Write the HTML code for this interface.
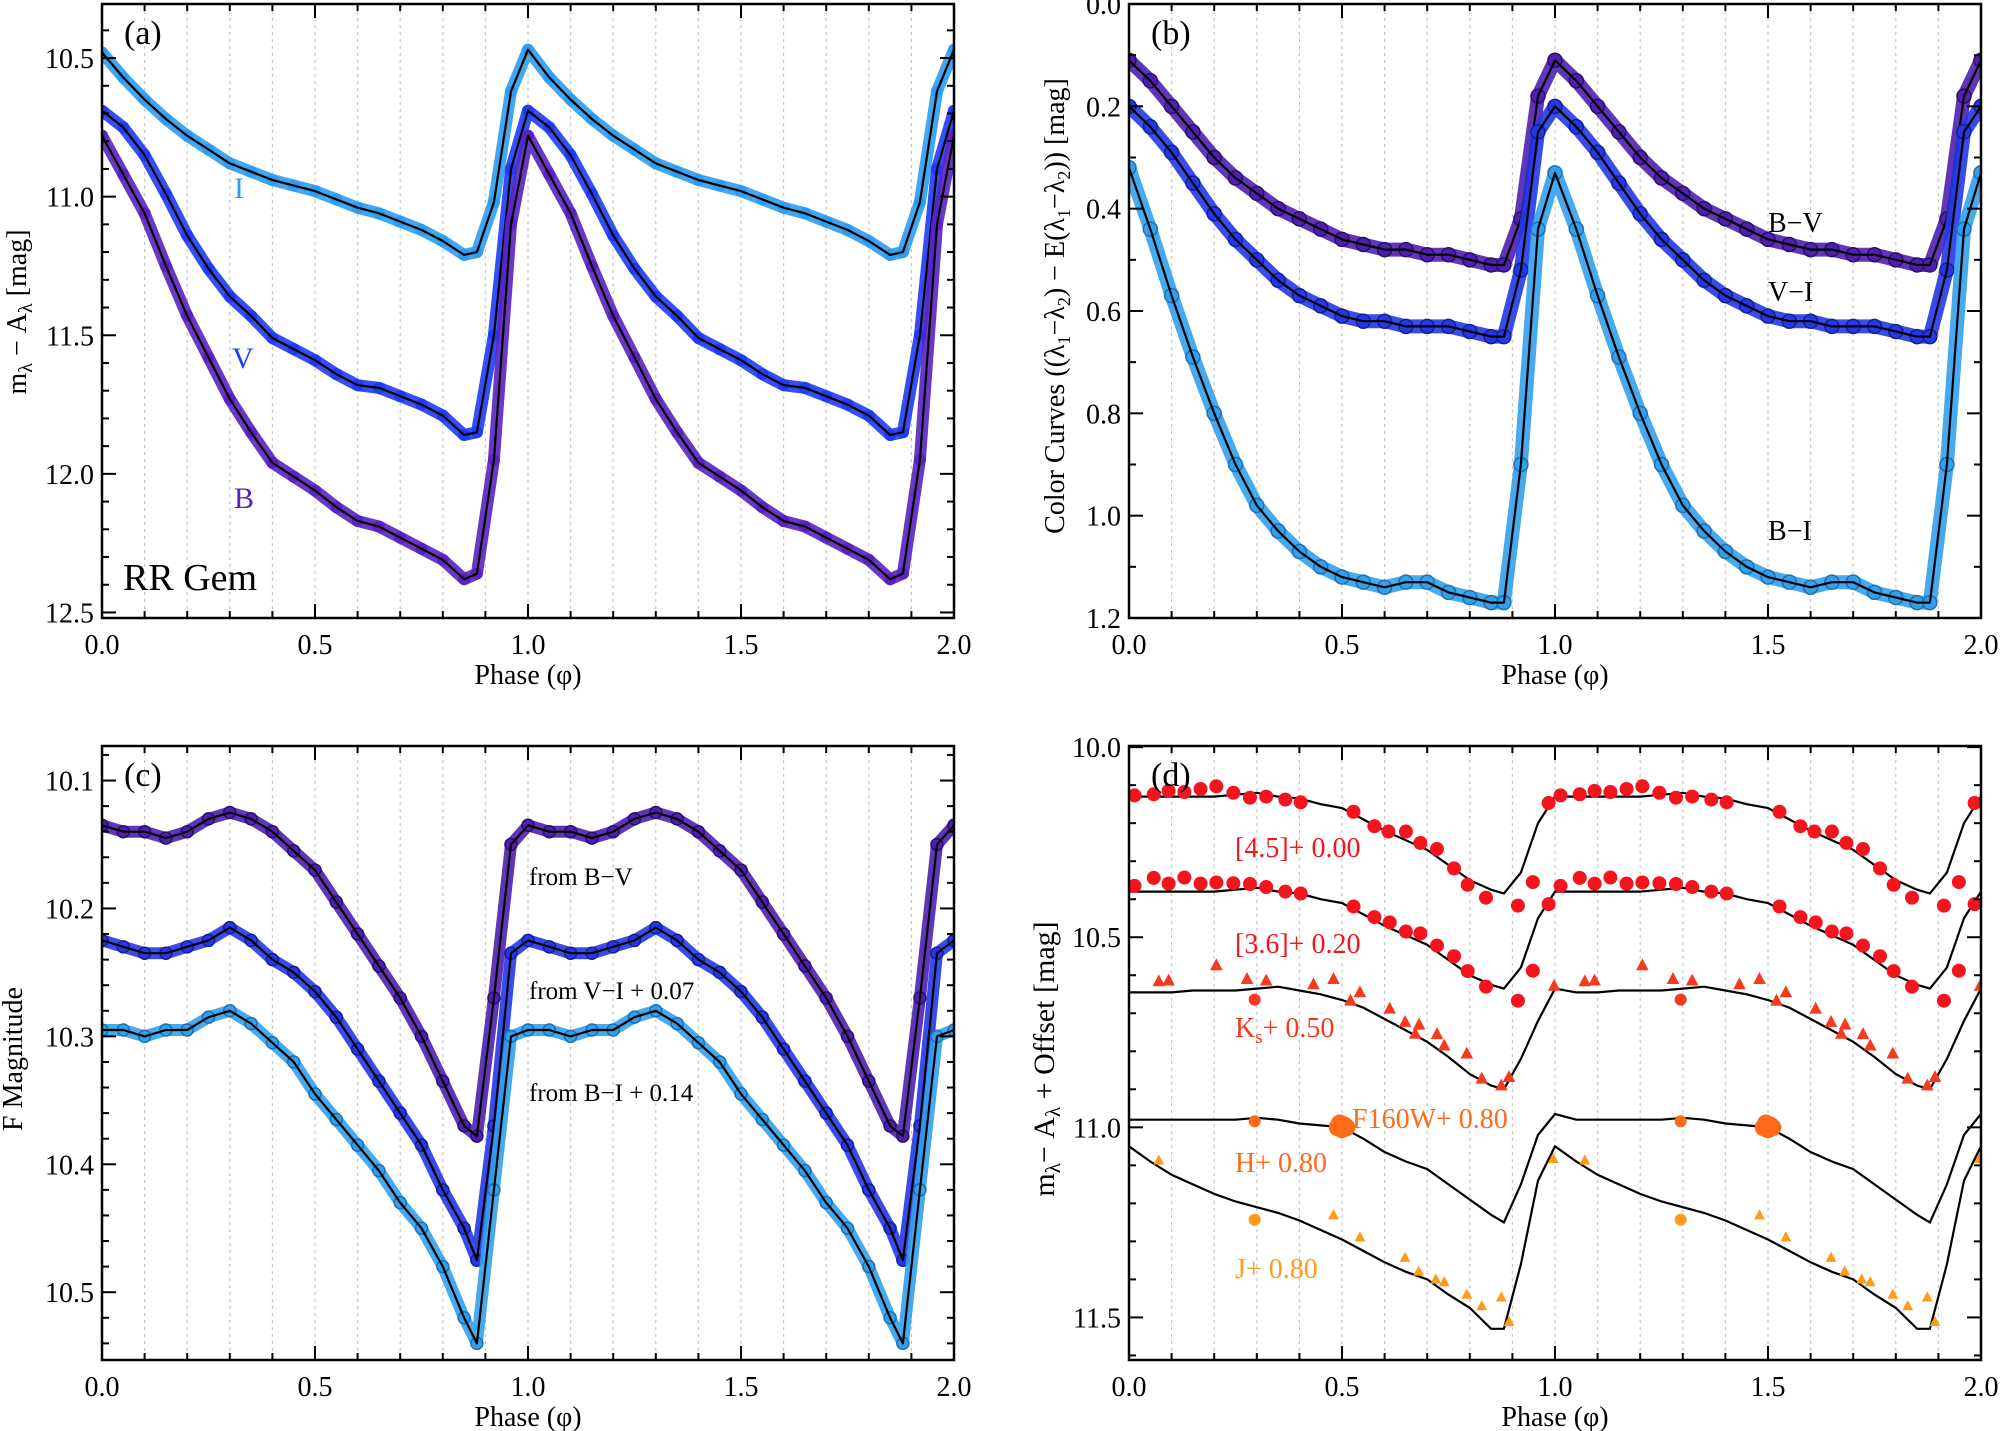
<!DOCTYPE html>
<html><head><meta charset="utf-8"><style>
html,body{margin:0;padding:0;background:#fff;}
svg{display:block;font-family:"Liberation Serif",serif;}
</style></head><body>
<svg id="fig" width="2000" height="1431" viewBox="0 0 2000 1431" xmlns="http://www.w3.org/2000/svg"></svg>
<script>
// ---- shared phase grid (one cycle) ----
const phases = [0,.05,.1,.15,.2,.25,.3,.35,.4,.45,.5,.55,.6,.65,.7,.75,.8,.85,.88,.92,.96,1];
// panel (a)
const magI = [10.48,10.57,10.65,10.72,10.78,10.83,10.88,10.91,10.94,10.96,10.98,11.01,11.04,11.06,11.09,11.12,11.16,11.21,11.20,11.02,10.62,10.47];
const magV = [10.69,10.75,10.85,10.99,11.14,11.26,11.36,11.43,11.51,11.55,11.59,11.64,11.68,11.69,11.72,11.75,11.79,11.86,11.85,11.50,10.90,10.69];
const magB = [10.78,10.92,11.06,11.25,11.43,11.58,11.73,11.85,11.96,12.01,12.06,12.12,12.17,12.19,12.23,12.27,12.31,12.38,12.36,11.95,11.10,10.78];
// panel (b)
const colBV = [.11,.15,.20,.25,.30,.34,.37,.40,.42,.44,.46,.47,.48,.48,.49,.49,.50,.51,.51,.42,.18,.11];
const colVI = [.20,.24,.29,.35,.41,.46,.50,.54,.57,.59,.61,.62,.62,.63,.63,.63,.64,.65,.65,.52,.25,.20];
const colBI = [.32,.44,.57,.69,.80,.90,.98,1.03,1.07,1.10,1.12,1.13,1.14,1.13,1.13,1.15,1.16,1.17,1.17,.90,.44,.33];
// panel (c)
const fBV = [10.135,10.14,10.14,10.145,10.14,10.13,10.125,10.13,10.14,10.155,10.17,10.195,10.22,10.245,10.27,10.30,10.335,10.37,10.378,10.27,10.15,10.135];
const fVI = [10.225,10.23,10.235,10.235,10.23,10.225,10.215,10.225,10.24,10.25,10.265,10.285,10.31,10.335,10.36,10.385,10.42,10.45,10.475,10.37,10.235,10.225];
const fBI = [10.295,10.295,10.30,10.295,10.295,10.285,10.28,10.29,10.305,10.32,10.345,10.365,10.385,10.405,10.43,10.45,10.48,10.52,10.54,10.42,10.30,10.295];
// panel (d) template lines
const l45 = [10.13,10.13,10.13,10.13,10.13,10.125,10.12,10.13,10.135,10.15,10.16,10.19,10.22,10.245,10.27,10.31,10.35,10.375,10.385,10.33,10.20,10.13];
const l36 = [10.38,10.38,10.38,10.38,10.38,10.375,10.37,10.38,10.385,10.40,10.41,10.44,10.47,10.495,10.52,10.56,10.60,10.625,10.635,10.58,10.45,10.38];
const lKs = [10.645,10.645,10.645,10.64,10.64,10.64,10.635,10.63,10.64,10.65,10.665,10.685,10.715,10.745,10.775,10.815,10.86,10.89,10.90,10.82,10.72,10.635];
const lH  = [10.98,10.98,10.98,10.98,10.98,10.98,10.975,10.98,10.99,10.995,11.0,11.03,11.065,11.09,11.11,11.15,11.19,11.23,11.25,11.15,11.02,10.965];
const lJ  = [11.05,11.09,11.125,11.15,11.175,11.195,11.21,11.225,11.245,11.27,11.295,11.325,11.355,11.38,11.40,11.44,11.475,11.53,11.53,11.36,11.14,11.05];
// panel (d) observations
const p45Phase = [.013,.058,.093,.13,.168,.205,.245,.284,.322,.367,.403,.527,.576,.609,.65,.684,.723,.763,.795,.838,.913,.948,.985];
const p45Mag   = [10.127,10.124,10.115,10.118,10.11,10.103,10.12,10.133,10.13,10.138,10.145,10.17,10.208,10.222,10.222,10.252,10.268,10.319,10.362,10.396,10.417,10.355,10.147];
const p36Phase = [.013,.058,.093,.13,.168,.205,.245,.284,.322,.367,.403,.527,.576,.612,.65,.684,.723,.763,.795,.838,.913,.948,.985];
const p36Mag   = [10.365,10.344,10.359,10.343,10.359,10.356,10.358,10.36,10.368,10.38,10.385,10.419,10.447,10.461,10.485,10.49,10.522,10.55,10.589,10.63,10.667,10.588,10.413];
const pKsPhase = [.07,.093,.205,.277,.322,.433,.48,.52,.542,.612,.648,.672,.681,.723,.74,.793,.828,.874,.892,.998];
const pKsMag   = [10.616,10.614,10.574,10.61,10.614,10.624,10.61,10.667,10.645,10.688,10.723,10.754,10.73,10.755,10.785,10.806,10.872,10.89,10.868,10.628];
const pKsCPhase = [.295];
const pKsCMag   = [10.664];
const pHPhase = [.295];
const pHMag   = [10.984];
const pFPhase = [.49,.495,.5,.505,.51];
const pFMag   = [11.0,10.99,11.005,10.995,11.0];
const pJCPhase = [.295];
const pJCMag   = [11.243];
const pJPhase = [.07,.48,.542,.648,.68,.72,.74,.793,.828,.874,.892,.996];
const pJMag   = [11.087,11.231,11.289,11.343,11.379,11.40,11.407,11.44,11.47,11.447,11.512,11.083];

const NS='http://www.w3.org/2000/svg';
const svg=document.getElementById('fig');
function mk(tag,attrs,parent){const e=document.createElementNS(NS,tag);for(const k in attrs)e.setAttribute(k,attrs[k]);(parent||svg).appendChild(e);return e;}

function makePanel(o){
  const g=mk('g',{});
  
  
  const sx=p=>o.l+(p/2)*(o.r-o.l);
  const sy=v=>o.t+(v-o.y0)/(o.y1-o.y0)*(o.b-o.t);
  for(let k=1;k<20;k++){
    const x=sx(k/10);
    const gl=mk('line',{x1:x,x2:x,y1:o.t,y2:o.b,stroke:'#c8c8c8','stroke-width':1.2,'stroke-dasharray':'3,4'},g);
    
    
  }
  const clipId='clip-'+o.name;
  const cp=mk('clipPath',{id:clipId},g);mk('rect',{x:o.l,y:o.t,width:o.r-o.l,height:o.b-o.t},cp);
  const plot=mk('g',{'clip-path':'url(#'+clipId+')'},g);
  o.draw(plot,sx,sy);
  const fr=mk('rect',{x:o.l,y:o.t,width:o.r-o.l,height:o.b-o.t,fill:'none',stroke:'#000','stroke-width':2.5},g);
  
  
  for(let k=0;k<=20;k++){
    const x=sx(k/10),len=(k%5===0)?14:7;
    mk('line',{x1:x,x2:x,y1:o.b,y2:o.b-len,stroke:'#000','stroke-width':2},g);
    mk('line',{x1:x,x2:x,y1:o.t,y2:o.t+len,stroke:'#000','stroke-width':2},g);
    if(k%5===0){
      const tl=mk('text',{x:x,y:o.b+36,'font-size':28,'text-anchor':'middle'},g);
      tl.textContent=(k/10).toFixed(1);
      
      
    }
  }
  const lo=Math.min(o.y0,o.y1),hi=Math.max(o.y0,o.y1);
  for(let v=Math.ceil(lo/o.minor-1e-6)*o.minor;v<=hi+1e-9;v+=o.minor){
    const y=sy(v);const isMaj=Math.abs(v/o.major-Math.round(v/o.major))<1e-6;
    const len=isMaj?14:7;
    mk('line',{x1:o.l,x2:o.l+len,y1:y,y2:y,stroke:'#000','stroke-width':2},g);
    mk('line',{x1:o.r,x2:o.r-len,y1:y,y2:y,stroke:'#000','stroke-width':2},g);
    if(isMaj){
      const tl=mk('text',{x:o.l-8,y:y+10,'font-size':28,'text-anchor':'end'},g);
      tl.textContent=v.toFixed(1);
      
      
    }
  }
  const xt=mk('text',{x:(o.l+o.r)/2,y:o.b+66,'font-size':28,'text-anchor':'middle'},g);
  xt.textContent='Phase (\u03C6)';
  
  
  const pl=mk('text',{x:o.l+22,y:o.t+40,'font-size':34},g);
  pl.textContent=o.letter;
  
  
  return {g,sx,sy};
}

function curve(parent,sx,sy,vals,color,dotR,name,edge){
  const pts=[];for(let k=0;k<2;k++)for(let i=0;i<phases.length;i++){if(k===1&&i===0)continue;pts.push([sx(phases[i]+k),sy(vals[i])]);}
  const d=pts.map((p,i)=>(i?'L':'M')+p[0].toFixed(1)+','+p[1].toFixed(1)).join('');
  const band=mk('path',{d:d,fill:'none',stroke:color,'stroke-width':dotR*2,'stroke-linejoin':'round','stroke-linecap':'round',opacity:0.9},parent);
  
  
  pts.forEach(p=>{
    const c=mk('circle',{cx:p[0],cy:p[1],r:dotR,fill:color,stroke:edge||'none','stroke-width':1.5},parent);
    
    
  });
  const ln=mk('path',{d:d,fill:'none',stroke:'#000','stroke-width':2.2,'stroke-linejoin':'round'},parent);
  
  
}
function lineOnly(parent,sx,sy,vals,name){
  const pts=[];for(let k=0;k<2;k++)for(let i=0;i<phases.length;i++){if(k===1&&i===0)continue;pts.push([sx(phases[i]+k),sy(vals[i])]);}
  const d=pts.map((p,i)=>(i?'L':'M')+p[0].toFixed(1)+','+p[1].toFixed(1)).join('');
  const ln=mk('path',{d:d,fill:'none',stroke:'#000','stroke-width':2.2},parent);
  
  
}
function pts(parent,sx,sy,ph,mg,color,shape,size,name){
  for(let k=0;k<2;k++)for(let i=0;i<ph.length;i++){
    const x=sx(ph[i]+k),y=sy(mg[i]);let e;
    if(shape==='tri'){e=mk('polygon',{points:`${x},${y-size} ${x-size*0.9},${y+size*0.7} ${x+size*0.9},${y+size*0.7}`,fill:color},parent);}
    else e=mk('circle',{cx:x,cy:y,r:size,fill:color},parent);
    
    
  }
}
function label(x,y,txt,color,size,name,anchor){
  const t=mk('text',{x:x,y:y,'font-size':size,fill:color,'text-anchor':anchor||'start'});
  t.innerHTML=txt;
  
  
  return t;
}

// (a)
makePanel({name:'panel-a',letter:'(a)',l:102,r:954,t:4,b:618,y0:10.305,y1:12.52,major:0.5,minor:0.1,
  draw:(g,sx,sy)=>{
    curve(g,sx,sy,magI,'#2e9cf0',6,'i-band');
    curve(g,sx,sy,magV,'#1e3cf5',6,'v-band');
    curve(g,sx,sy,magB,'#5a22c0',6,'b-band');
  }});
label(234,198,'I','#2e9cf0',30,'i-band-label');
label(232,368,'V','#1e3cf5',30,'v-band-label');
label(234,508,'B','#5a22c0',30,'b-band-label');
label(123,590,'RR Gem','#000',38,'star-name-label');
const ta=label(0,0,'m<tspan font-size="20" dy="6">λ</tspan><tspan dy="-6"> − A</tspan><tspan font-size="20" dy="6">λ</tspan><tspan dy="-6"> [mag]</tspan>','#000',28,'y-axis-title-a','middle');
ta.setAttribute('transform','translate(26,312) rotate(-90)');

// (b)
makePanel({name:'panel-b',letter:'(b)',l:1129,r:1981,t:4,b:618,y0:0,y1:1.2,major:0.2,minor:0.1,
  draw:(g,sx,sy)=>{
    curve(g,sx,sy,colBV,'#4f1fb0',7,'b-v-color','#2a0f6a');
    curve(g,sx,sy,colVI,'#2438e8',7,'v-i-color','#15208a');
    curve(g,sx,sy,colBI,'#33a0ec',7,'b-i-color','#1f6fb0');
  }});
label(1768,232,'B−V','#000',28,'b-v-label');
label(1768,301,'V−I','#000',28,'v-i-label');
label(1768,540,'B−I','#000',28,'b-i-label');
const tb=label(0,0,'Color Curves ((λ<tspan font-size="18" dy="6">1</tspan><tspan dy="-6">−λ</tspan><tspan font-size="18" dy="6">2</tspan><tspan dy="-6">) − E(λ</tspan><tspan font-size="18" dy="6">1</tspan><tspan dy="-6">−λ</tspan><tspan font-size="18" dy="6">2</tspan><tspan dy="-6">)) [mag]</tspan>','#000',28,'y-axis-title-b','middle');
tb.setAttribute('transform','translate(1064,306) rotate(-90)');

// (c)
makePanel({name:'panel-c',letter:'(c)',l:102,r:954,t:746,b:1360,y0:10.073,y1:10.553,major:0.1,minor:0.02,
  draw:(g,sx,sy)=>{
    curve(g,sx,sy,fBV,'#4f1fb0',6,'f-from-b-v','#2a0f6a');
    curve(g,sx,sy,fVI,'#2438e8',6,'f-from-v-i','#15208a');
    curve(g,sx,sy,fBI,'#33a0ec',6,'f-from-b-i','#1f6fb0');
  }});
label(529,885,'from B−V','#000',25,'from-b-v-label');
label(529,999,'from V−I + 0.07','#000',25,'from-v-i-label');
label(529,1101,'from B−I + 0.14','#000',25,'from-b-i-label');
const tc=label(0,0,'F Magnitude','#000',28,'y-axis-title-c','middle');
tc.setAttribute('transform','translate(22,1059) rotate(-90)');

// (d)
makePanel({name:'panel-d',letter:'(d)',l:1129,r:1981,t:746,b:1360,y0:9.997,y1:11.612,major:0.5,minor:0.1,
  draw:(g,sx,sy)=>{
    lineOnly(g,sx,sy,l45,'ch2');
    lineOnly(g,sx,sy,l36,'ch1');
    lineOnly(g,sx,sy,lKs,'ks');
    lineOnly(g,sx,sy,lH,'h');
    lineOnly(g,sx,sy,lJ,'j');
    pts(g,sx,sy,p45Phase,p45Mag,'#f5141e','c',7,'ch2');
    pts(g,sx,sy,p36Phase,p36Mag,'#f5141e','c',7,'ch1');
    pts(g,sx,sy,pKsPhase,pKsMag,'#f53a1e','tri',7,'ks');
    pts(g,sx,sy,pKsCPhase,pKsCMag,'#f53a1e','c',6,'ks-circle');
    pts(g,sx,sy,pHPhase,pHMag,'#ff6a1a','c',6,'h');
    pts(g,sx,sy,pFPhase,pFMag,'#ff6a1a','c',9,'f160w');
    pts(g,sx,sy,pJCPhase,pJCMag,'#ff9a1a','c',6,'j-circle');
    pts(g,sx,sy,pJPhase,pJMag,'#ff9a1a','tri',6,'j');
  }});
label(1235,857,'[4.5]+ 0.00','#f5141e',28,'ch2-label');
label(1235,953,'[3.6]+ 0.20','#f5141e',28,'ch1-label');
label(1235,1037,'K<tspan font-size="19" dy="6">s</tspan><tspan dy="-6">+ 0.50</tspan>','#f53a1e',28,'ks-label');
label(1352,1128,'F160W+ 0.80','#ff6a1a',28,'f160w-label');
label(1235,1172,'H+ 0.80','#ff6a1a',28,'h-label');
label(1235,1278,'J+ 0.80','#ff9a1a',28,'j-label');
const td=label(0,0,'m<tspan font-size="21" dy="6">λ</tspan><tspan dy="-6">− A</tspan><tspan font-size="21" dy="6">λ</tspan><tspan dy="-6"> + Offset [mag]</tspan>','#000',30,'y-axis-title-d','middle');
td.setAttribute('transform','translate(1054,1059) rotate(-90)');
</script>
</body></html>
